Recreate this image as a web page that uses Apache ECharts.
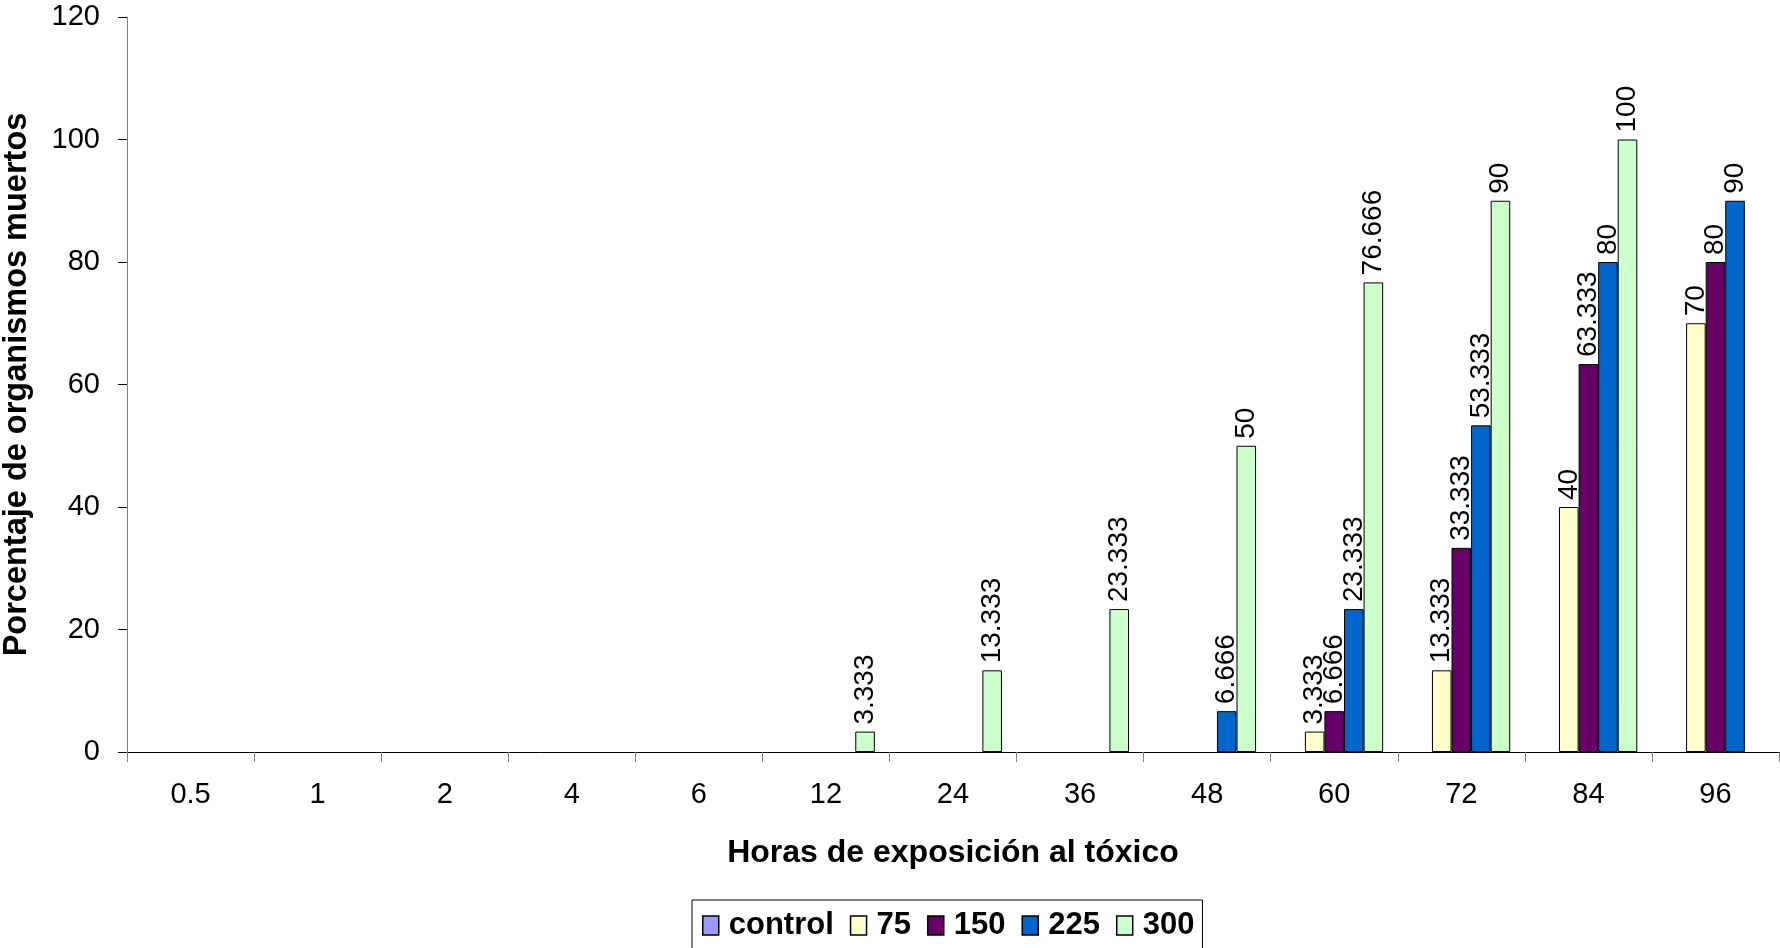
<!DOCTYPE html>
<html>
<head>
<meta charset="utf-8">
<title>Porcentaje de organismos muertos</title>
<script src="https://cdn.jsdelivr.net/npm/echarts@6/dist/echarts.min.js"></script>
<style>
  html, body { margin: 0; padding: 0; background: #ffffff; }
  #chart { width: 1780px; height: 948px; }
</style>
</head>
<body>
<div id="chart"></div>
<script>
// Hours of exposure (categories)
const hours = ['0.5', '1', '2', '4', '6', '12', '24', '36', '48', '60', '72', '84', '96'];

// Mortality (%) per concentration; null = no bar
const control = [0, 0, 0, 0, 0, 0, 0, 0, 0, 0, 0, 0, 0];
const c75  = [0, 0, 0, 0, 0, 0, 0, 0, 0, 3.333, 13.333, 40, 70];
const c150 = [0, 0, 0, 0, 0, 0, 0, 0, 0, 6.666, 33.333, 63.333, 80];
const c225 = [0, 0, 0, 0, 0, 0, 0, 0, 6.666, 23.333, 53.333, 80, 90];
const c300 = [0, 0, 0, 0, 0, 3.333, 13.333, 23.333, 50, 76.666, 90, 100, null];

const seriesNames = ['control', '75', '150', '225', '300'];
const seriesData = [control, c75, c150, c225, c300];
const seriesColors = ['#9999FF', '#FFFFCC', '#660066', '#0066CC', '#CCFFCC'];

const FONT = "'Liberation Sans', Arial, Helvetica, sans-serif";

const chart = echarts.init(document.getElementById('chart'), null, { renderer: 'canvas' });

// zero-height bars get no outline so nothing is drawn on the axis
const toItems = arr => arr.map(v => (v === 0 ? { value: 0, itemStyle: { borderWidth: 0 } } : v));

const series = seriesNames.map((name, i) => ({
  name: name,
  type: 'bar',
  data: toItems(seriesData[i]),
  barGap: '0%',
  barCategoryGap: '23%',
  itemStyle: { color: seriesColors[i], borderColor: '#000000', borderWidth: 1 },
  label: {
    show: true,
    position: 'top',
    rotate: 90,
    align: 'left',
    verticalAlign: 'middle',
    distance: 7,
    fontFamily: FONT,
    fontSize: 28,
    color: '#000000',
    formatter: p => (p.value === 0 || p.value == null) ? '' : String(p.value)
  },
  emphasis: { disabled: true },
  animation: false
}));

chart.setOption({
  backgroundColor: '#ffffff',
  animation: false,
  textStyle: { fontFamily: FONT },
  grid: { left: 127, right: 1, top: 17, bottom: 196, containLabel: false, outerBoundsMode: 'none' },
  legend: {
    data: seriesNames,
    left: 692,
    top: 900,
    orient: 'horizontal',
    padding: [10, 8, 30, 10],
    itemGap: 16,
    itemWidth: 16,
    itemHeight: 19,
    icon: 'rect',
    borderColor: '#000000',
    borderWidth: 1,
    backgroundColor: '#ffffff',
    itemStyle: { borderColor: '#000000', borderWidth: 1.5 },
    textStyle: {
      fontFamily: FONT, fontSize: 31, fontWeight: 'bold', color: '#000000',
      padding: [0, 0, 0, 5]
    },
    selectedMode: false
  },
  xAxis: {
    type: 'category',
    data: hours,
    name: 'Horas de exposición al tóxico',
    nameLocation: 'middle',
    nameGap: 85,
    nameTextStyle: { fontFamily: FONT, fontSize: 32, fontWeight: 'bold', color: '#000000' },
    axisLine: { lineStyle: { color: '#000000', width: 1 } },
    axisTick: { show: true, length: 10, lineStyle: { color: '#808080' } },
    axisLabel: { fontFamily: FONT, fontSize: 29, color: '#000000', margin: 28 },
    splitLine: { show: false }
  },
  yAxis: {
    type: 'value',
    min: 0,
    max: 120,
    interval: 20,
    name: 'Porcentaje de organismos muertos',
    nameLocation: 'middle',
    nameGap: 93,
    nameTextStyle: { fontFamily: FONT, fontSize: 32.5, fontWeight: 'bold', color: '#000000' },
    axisLine: { show: true, lineStyle: { color: '#808080', width: 1 } },
    axisTick: { show: true, length: 9, lineStyle: { color: '#000000' } },
    axisLabel: { fontFamily: FONT, fontSize: 29, color: '#000000', margin: 27 },
    splitLine: { show: false }
  },
  series: series
});
</script>
</body>
</html>
